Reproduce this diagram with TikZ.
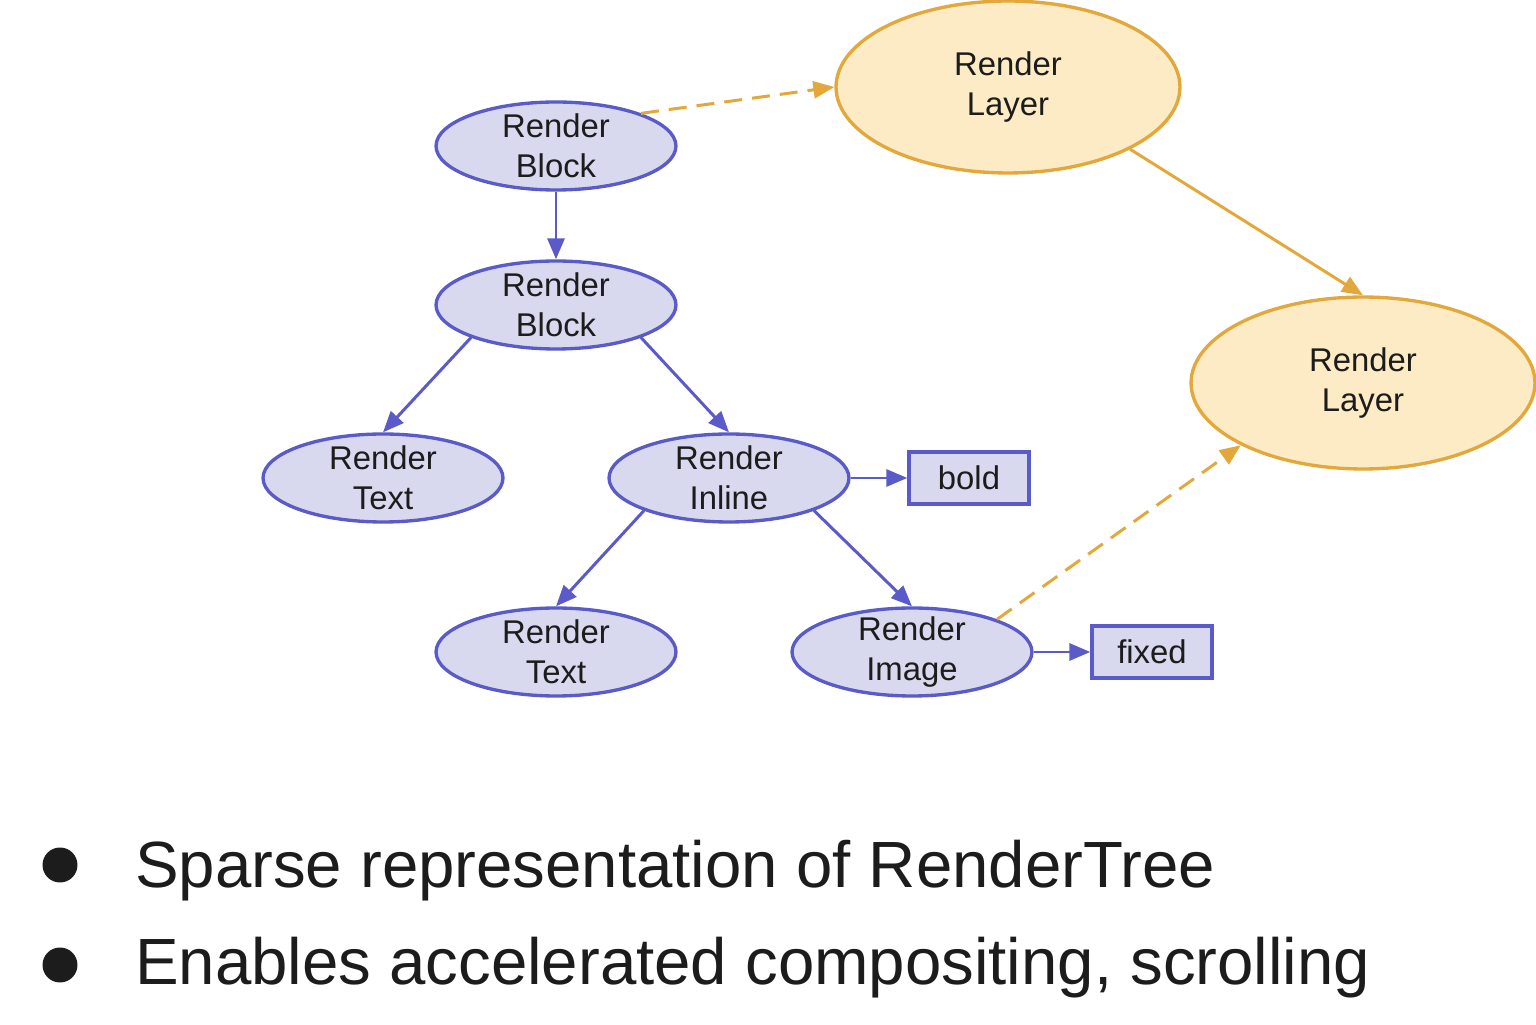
\documentclass[tikz,border=0pt]{standalone}
\usepackage{fontspec}
\setmainfont{Liberation Sans}
\usetikzlibrary{shapes.geometric,arrows.meta}
\definecolor{treeline}{RGB}{90,90,200}
\definecolor{treefill}{RGB}{216,216,238}
\definecolor{layerline}{RGB}{226,168,60}
\definecolor{layerfill}{RGB}{252,235,196}
\definecolor{inktext}{RGB}{28,28,28}
\tikzset{
	render/.style={ellipse, draw=treeline, fill=treefill, line width=1.9pt, minimum width=4.8cm, minimum height=1.76cm, inner xsep=0pt, inner ysep=-6pt, align=center, text=inktext, font=\fontsize{18.7}{22.8}\selectfont},
	layer/.style={render, draw=layerline, fill=layerfill, minimum width=6.88cm, minimum height=3.44cm},
	flag/.style={rectangle, draw=treeline, fill=treefill, line width=1.9pt, minimum width=2.4cm, minimum height=1.04cm, text=inktext, font=\fontsize{18.7}{22.8}\selectfont},
	child/.style={draw=treeline, line width=1.7pt, -{Triangle[length=0.42cm, width=0.34cm]}},
	promote/.style={draw=layerline, line width=1.7pt, -{Triangle[length=0.42cm, width=0.34cm]}},
	notline/.style={anchor=base west, text=inktext, font=\fontsize{37.2}{44}\selectfont}
}
\begin{document}
\begin{tikzpicture}[x=0.02cm, y=0.02cm]
				\useasboundingbox (0, 0) rectangle (1536, 1025);
				\node[render] (rb1) at (556, 879) {Render\\Block};
				\node[render] (rb2) at (556, 720) {Render\\Block};
				\node[render] (rt1) at (383, 547) {Render\\Text};
				\node[render] (ri) at (729, 547) {Render\\Inline};
				\node[render] (rt2) at (556, 373) {Render\\Text};
				\node[render] (rimg) at (912, 373) {Render\\Image};
				\node[flag] (bold) at (969, 547) {bold};
				\node[flag] (fixed) at (1152, 373) {fixed};
				\node[layer] (rl1) at (1008, 938) {Render\\Layer};
				\node[layer] (rl2) at (1363, 642) {Render\\Layer};
				\draw[child] (rb1.south) -- (rb2.north);
				\draw[child] (rb2.201) -- (rt1.north);
				\draw[child] (rb2.339) -- (ri.north);
				\draw[child] (ri.east) -- (bold.west);
				\draw[child] (ri.201) -- (rt2.north);
				\draw[child] (ri.339) -- (rimg.north);
				\draw[child] (rimg.east) -- (fixed.west);
				\draw[promote, dash pattern=on 0.36cm off 0.2cm] (rb1.21) -- (rl1.west);
				\draw[promote] (rl1.333) -- (rl2.north);
				\draw[promote, dash pattern=on 0.36cm off 0.2cm] (rimg.21) -- (rl2.207);
				\fill[inktext] (60, 160) circle (0.35cm);
				\fill[inktext] (60, 60) circle (0.35cm);
				\node[notline] (sparse) at (129, 137) {Sparse representation of RenderTree};
				\node[notline] (enables) at (129, 40) {Enables accelerated compositing, scrolling};
			\end{tikzpicture}
\end{document}
